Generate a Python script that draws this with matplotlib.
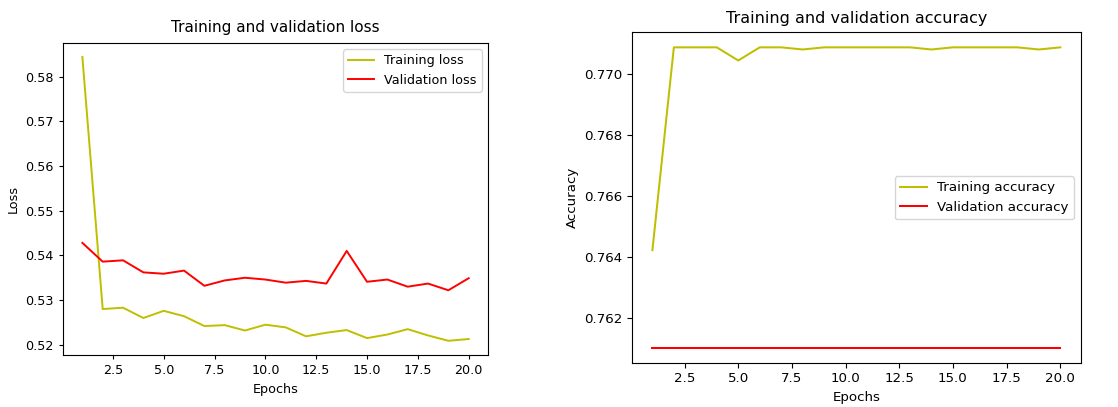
import numpy as np
import matplotlib
matplotlib.use("Agg")
import matplotlib.pyplot as plt

epochs = list(range(1, 21))

train_loss = [0.5844, 0.5280, 0.5283, 0.5260, 0.5276, 0.5264, 0.5242, 0.5244, 0.5232, 0.5245,
              0.5239, 0.5219, 0.5227, 0.5233, 0.5215, 0.5223, 0.5235, 0.5221, 0.5209, 0.5213]
val_loss = [0.5428, 0.5386, 0.5389, 0.5362, 0.5359, 0.5366, 0.5332, 0.5344, 0.5350, 0.5346,
            0.5339, 0.5343, 0.5337, 0.5410, 0.5341, 0.5346, 0.5330, 0.5337, 0.5322, 0.5349]

train_acc = [0.76423, 0.77086, 0.77086, 0.77086, 0.77043, 0.77086, 0.77086, 0.77079, 0.77086, 0.77086,
             0.77086, 0.77086, 0.77086, 0.77079, 0.77086, 0.77086, 0.77086, 0.77086, 0.77079, 0.77086]
val_acc = [0.76103] * 20

fig = plt.figure(figsize=(11.18, 4.07), dpi=100)

# left panel: loss
ax1 = fig.add_axes([0.0564, 0.1278, 0.3801, 0.7673])
ax1.plot(epochs, train_loss, color="y", linewidth=1.4, label="Training loss")
ax1.plot(epochs, val_loss, color="r", linewidth=1.4, label="Validation loss")
ax1.set_title("Training and validation loss", fontsize=11.0, pad=7.5)
ax1.set_xlabel("Epochs", fontsize=9.2)
ax1.set_ylabel("Loss", fontsize=9.2)
ax1.tick_params(labelsize=9.2, length=3.2)
ax1.set_yticks([0.52, 0.53, 0.54, 0.55, 0.56, 0.57, 0.58])
ax1.legend(loc="upper right", fontsize=9.2)

# right panel: accuracy
ax2 = fig.add_axes([0.5653, 0.1081, 0.4013, 0.8125])
ax2.plot(epochs, train_acc, color="y", linewidth=1.45, label="Training accuracy")
ax2.plot(epochs, val_acc, color="r", linewidth=1.45, label="Validation accuracy")
ax2.set_title("Training and validation accuracy", fontsize=11.5, pad=6.8)
ax2.set_xlabel("Epochs", fontsize=9.6)
ax2.set_ylabel("Accuracy", fontsize=9.6)
ax2.tick_params(labelsize=9.6, length=3.3)
ax2.legend(loc="center right", fontsize=9.6)

for ax in (ax1, ax2):
    ax.set_xticks([2.5, 5.0, 7.5, 10.0, 12.5, 15.0, 17.5, 20.0])

fig.savefig("out.png", dpi=100)
